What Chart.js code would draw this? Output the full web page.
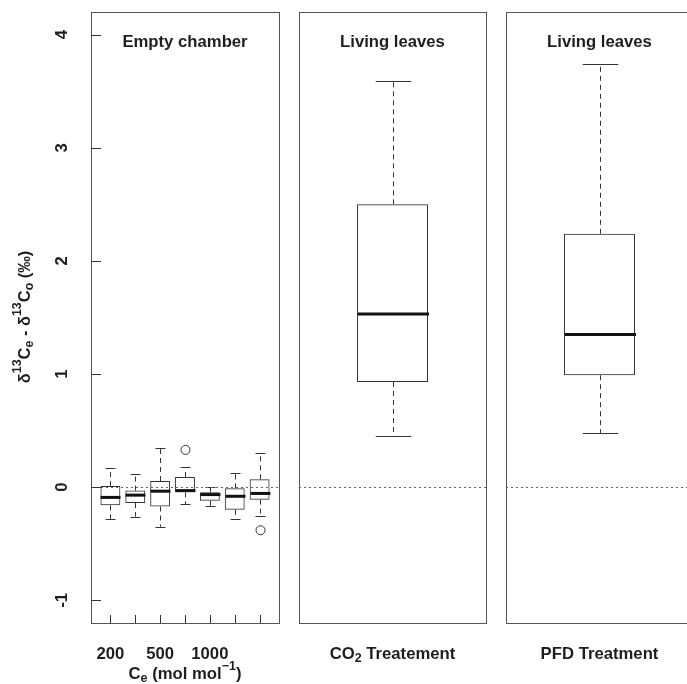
<!DOCTYPE html>
<html>
<head>
<meta charset="utf-8">
<script src="https://cdn.jsdelivr.net/npm/chart.js@4/dist/chart.umd.min.js"></script>
<style>
  html, body { margin: 0; padding: 0; background: #fff; overflow: hidden; width: 687px; height: 684px; }
  canvas { position: absolute; top: 0; }
</style>
</head>
<body>
<canvas id="p1" width="290" height="684" style="left:0px"></canvas>
<canvas id="p2" width="200" height="684" style="left:290px"></canvas>
<canvas id="p3" width="200" height="684" style="left:497px"></canvas>
<script>
// y range shared by the three panels
const yMin = -1.2;
const yMax = 4.2;
const yTicks = [-1, 0, 1, 2, 3, 4];

// empty chamber, one box per CO2 level
const chamberPos = [1, 2, 3, 4, 5, 6, 7];
const chamberLabels = ["200", "", "500", "", "1000", "", ""];
const chamberLow = [-0.28, -0.26, -0.35, -0.15, -0.17, -0.28, -0.25];
const chamberQ1 = [-0.16, -0.14, -0.17, -0.045, -0.12, -0.20, -0.11];
const chamberMed = [-0.09, -0.07, -0.035, -0.03, -0.065, -0.08, -0.055];
const chamberQ3 = [0.01, -0.03, 0.055, 0.09, -0.045, -0.01, 0.07];
const chamberHigh = [0.17, 0.115, 0.35, 0.175, 0.0, 0.13, 0.30];
const chamberOut = [[], [], [], [0.33], [], [], [-0.38]];

// living leaves
const co2Stats = [0.45, 0.93, 1.53, 2.50, 3.59];   // low, q1, median, q3, high
const pfdStats = [0.48, 0.99, 1.35, 2.24, 3.74];

const FONT = "'Liberation Sans', Arial, sans-serif";
const INK = "#1e1e1e";
const SIZE = 16.7;

// text with super/subscripts: parts = [[text, "" | "sup" | "sub"], ...]
function partFont(kind, size) {
  return "bold " + (kind ? size * 0.75 : size) + "px " + FONT;
}
function richWidth(ctx, parts, size) {
  let w = 0;
  parts.forEach(([t, kind]) => { ctx.font = partFont(kind, size); w += ctx.measureText(t).width; });
  return w;
}
function drawRich(ctx, parts, x, y, size, rotated) {
  ctx.save();
  ctx.translate(x, y);
  if (rotated) ctx.rotate(-Math.PI / 2);
  ctx.fillStyle = INK;
  ctx.textBaseline = "middle";
  ctx.textAlign = "left";
  let cx = -richWidth(ctx, parts, size) / 2;
  parts.forEach(([t, kind]) => {
    ctx.font = partFont(kind, size);
    const dy = kind === "sup" ? -size * 0.42 : kind === "sub" ? size * 0.3 : 0;
    ctx.fillText(t, cx, dy);
    cx += ctx.measureText(t).width;
  });
  ctx.restore();
}

function boxPlugin(stats, title, xTitle, xTitleY, withAxes) {
  return {
    id: "boxParts",
    afterDatasetsDraw(chart) {
      const ctx = chart.ctx;
      const area = chart.chartArea;
      const y = chart.scales.y;
      const x = chart.scales.x;
      const bars = chart.getDatasetMeta(0).data;

      ctx.save();
      bars.forEach((bar, i) => {
        const [low, q1, med, q3, high, outs] = stats(i);
        const w = bar.width;
        const cx = Math.round(bar.x) + 0.5;
        // dashed whiskers
        ctx.strokeStyle = "#333";
        ctx.lineWidth = 1;
        ctx.setLineDash([5, 4]);
        ctx.beginPath();
        ctx.moveTo(cx, y.getPixelForValue(q3));
        ctx.lineTo(cx, y.getPixelForValue(high));
        ctx.moveTo(cx, y.getPixelForValue(q1));
        ctx.lineTo(cx, y.getPixelForValue(low));
        ctx.stroke();
        ctx.setLineDash([]);
        // staples
        ctx.beginPath();
        [low, high].forEach(v => {
          const py = Math.round(y.getPixelForValue(v)) + 0.5;
          ctx.moveTo(cx - w / 4, py);
          ctx.lineTo(cx + w / 4, py);
        });
        ctx.stroke();
        // median
        ctx.strokeStyle = "#111";
        ctx.lineWidth = 3;
        ctx.beginPath();
        const pm = y.getPixelForValue(med);
        ctx.moveTo(cx - w / 2, pm);
        ctx.lineTo(cx + w / 2, pm);
        ctx.stroke();
        // outliers
        ctx.strokeStyle = "#333";
        ctx.lineWidth = 1;
        outs.forEach(v => {
          ctx.beginPath();
          ctx.arc(cx, y.getPixelForValue(v), 4.5, 0, Math.PI * 2);
          ctx.stroke();
        });
      });

      // dotted zero line
      const p0 = Math.round(y.getPixelForValue(0)) + 0.5;
      ctx.strokeStyle = "#666";
      ctx.lineWidth = 1;
      ctx.setLineDash([2, 3]);
      ctx.beginPath();
      ctx.moveTo(area.left, p0);
      ctx.lineTo(area.right, p0);
      ctx.stroke();
      ctx.setLineDash([]);

      // panel frame
      ctx.strokeStyle = "#555";
      ctx.strokeRect(Math.round(area.left) + 0.5, Math.round(area.top) + 0.5,
        Math.round(area.right - area.left), Math.round(area.bottom - area.top));

      // panel title
      drawRich(ctx, [[title, ""]], (area.left + area.right) / 2, area.top + 30, SIZE, false);
      // x title
      drawRich(ctx, xTitle, (area.left + area.right) / 2, xTitleY, SIZE, false);

      if (withAxes) {
        ctx.strokeStyle = "#333";
        ctx.beginPath();
        yTicks.forEach(v => {
          const py = Math.round(y.getPixelForValue(v)) + 0.5;
          ctx.moveTo(area.left, py);
          ctx.lineTo(area.left + 10, py);
        });
        chamberPos.forEach(v => {
          const px = Math.round(x.getPixelForValue(v)) + 0.5;
          ctx.moveTo(px, area.bottom);
          ctx.lineTo(px, area.bottom - 8);
        });
        ctx.stroke();
        yTicks.forEach(v => {
          drawRich(ctx, [[String(v), ""]], 62, y.getPixelForValue(v), SIZE, true);
        });
        chamberPos.forEach((v, i) => {
          if (chamberLabels[i]) drawRich(ctx, [[chamberLabels[i], ""]], x.getPixelForValue(v), 654, SIZE, false);
        });
        drawRich(ctx, [["δ", ""], ["13", "sup"], ["C", ""], ["e", "sub"], [" - δ", ""], ["13", "sup"], ["C", ""], ["o", "sub"], [" (‰)", ""]],
          25, 317, 16.5, true);
      }
      ctx.restore();
    }
  };
}

function baseOptions(padLeft, padRight, xScale) {
  return {
    responsive: false,
    animation: false,
    events: [],
    layout: { padding: { left: padLeft, right: padRight, top: 12, bottom: 61 } },
    plugins: { legend: { display: false }, tooltip: { enabled: false }, title: { display: false } },
    scales: {
      x: xScale,
      y: { min: yMin, max: yMax, display: false }
    }
  };
}

const boxStyle = {
  backgroundColor: "rgba(255,255,255,0)",
  borderColor: "#333",
  borderWidth: 1,
  borderSkipped: false
};

new Chart(document.getElementById("p1"), {
  type: "bar",
  data: {
    datasets: [Object.assign({
      data: chamberPos.map((p, i) => ({ x: p, y: [chamberQ1[i], chamberQ3[i]] })),
      barPercentage: 0.8,
      categoryPercentage: 1
    }, boxStyle)]
  },
  options: baseOptions(91, 11, { type: "linear", min: 0.22, max: 7.78, offset: false, display: false }),
  plugins: [boxPlugin(
    i => [chamberLow[i], chamberQ1[i], chamberMed[i], chamberQ3[i], chamberHigh[i], chamberOut[i]],
    "Empty chamber",
    [["C", ""], ["e", "sub"], [" (mol mol", ""], ["−1", "sup"], [")", ""]],
    674, true)]
});

[["p2", co2Stats, [["CO", ""], ["2", "sub"], [" Treatement", ""]], 654],
 ["p3", pfdStats, [["PFD Treatment", ""]], 654]].forEach(([id, s, xt, ty]) => {
  new Chart(document.getElementById(id), {
    type: "bar",
    data: {
      labels: [""],
      datasets: [Object.assign({
        data: [[s[1], s[3]]],
        barPercentage: 0.38,
        categoryPercentage: 1
      }, boxStyle)]
    },
    options: baseOptions(9, 4, { type: "category", display: false }),
    plugins: [boxPlugin(() => [s[0], s[1], s[2], s[3], s[4], []], "Living leaves", xt, ty, false)]
  });
});
</script>
</body>
</html>
